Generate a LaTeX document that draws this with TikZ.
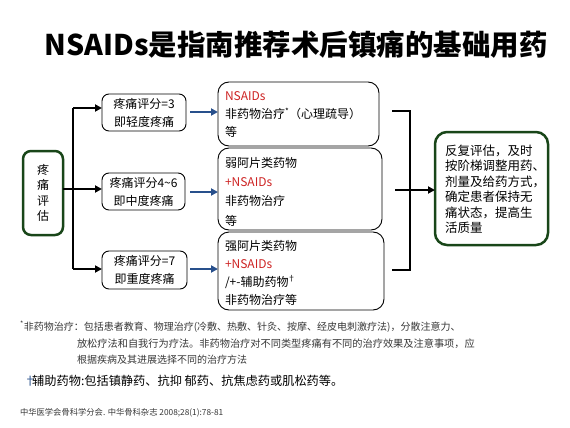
\documentclass[tikz,border=0pt]{standalone}
\usepackage{fontspec}
\setmainfont{Noto Sans CJK SC}
\usetikzlibrary{arrows.meta}
\definecolor{dgreen}{RGB}{25,70,25}
\definecolor{nred}{RGB}{205,35,35}
\definecolor{nblue}{RGB}{40,80,140}
\definecolor{fgray}{RGB}{55,55,55}
\begin{document}
\begin{tikzpicture}[x=1pt,y=-1pt,
 every node/.style={inner sep=0pt, outer sep=0pt},
 gbox/.style={draw=dgreen, line width=2.5pt, rounded corners=8pt},
 sbox/.style={draw=black, line width=0.9pt, rounded corners=7pt, align=center, font=\fontsize{12}{18}\selectfont},
 tbox/.style={draw=black, line width=0.9pt, rounded corners=11pt},
 blk/.style={line width=2pt, -{Triangle[length=7pt,width=7pt]}},
 blu/.style={draw=nblue, line width=2pt, -{Triangle[length=7pt,width=7pt]}},
 brk/.style={line width=2.2pt},
 lbl/.style={font=\fontsize{12}{14}\selectfont, anchor=west},
 foot/.style={font=\fontsize{10}{12}\selectfont, anchor=west, text=fgray},
]
\useasboundingbox (0,0) rectangle (570,428);

% title
\node (title) at (296,45) {\fontsize{28.5}{32}\selectfont\bfseries NSAIDs是指南推荐术后镇痛的基础用药};

% left evaluation box
\node[gbox, minimum width=40pt, minimum height=84pt, align=center, font=\fontsize{12}{15.5}\selectfont] (eval) at (43,193) {疼\\痛\\评\\估};

% score boxes
\node[sbox, minimum width=84pt, minimum height=37pt] (s1) at (144,112.5) {疼痛评分=3\\即轻度疼痛};
\node[sbox, minimum width=83pt, minimum height=37pt] (s2) at (143.5,191.5) {疼痛评分4\textasciitilde6\\即中度疼痛};
\node[sbox, minimum width=85pt, minimum height=38pt] (s3) at (144.5,270) {疼痛评分=7\\即重度疼痛};

% treatment boxes
\node[tbox, minimum width=161pt, minimum height=64pt] (t1) at (298.5,114) {};
\node[tbox, minimum width=164pt, minimum height=82pt] (t2) at (300,189) {};
\node[tbox, minimum width=166pt, minimum height=78pt] (t3) at (301,271) {};

\node[lbl, text=nred] (t1a) at (225,96) {NSAIDs};
\node[lbl] (t1b) at (225,114) {非药物治疗\textsuperscript{*}（心理疏导）};
\node[lbl] (t1c) at (225,132) {等};

\node[lbl] (t2a) at (225,163) {弱阿片类药物};
\node[lbl, text=nred] (t2b) at (225,182) {+NSAIDs};
\node[lbl] (t2c) at (225,201) {非药物治疗};
\node[lbl] (t2d) at (225,221) {等};

\node[lbl] (t3a) at (225,246) {强阿片类药物};
\node[lbl, text=nred] (t3b) at (225,264) {+NSAIDs};
\node[lbl] (t3c) at (225,282) {/+-辅助药物\kern-1pt\textsuperscript{†}};
\node[lbl] (t3d) at (225,300) {非药物治疗等};

% result box
\node[gbox, rounded corners=12pt, minimum width=113pt, minimum height=113pt] (res) at (491.5,188.5) {};
\node[anchor=west, align=left, font=\fontsize{12.5}{15.5}\selectfont] (rest) at (445,189) {反复评估，及时\\按阶梯调整用药、\\剂量及给药方式，\\确定患者保持无\\痛状态，提高生\\活质量};

% trunk connectors
\coordinate (jm) at (73,189);
\coordinate (jt) at (73,108);
\coordinate (jb) at (73,269);
\draw[line width=2pt] (eval.east |- jm) -- (jm);
\draw[line width=2pt] (jt) -- (jb);
\draw[blk] (jt) -- (s1.west |- jt);
\draw[blk] (jm) -- (s2.west |- jm);
\draw[blk] (jb) -- (s3.west |- jb);

% blue arrows
\coordinate (b1) at (190,112);
\coordinate (b2) at (190,192);
\coordinate (b3) at (190,269);
\draw[blu] (b1) -- (t1.west |- b1);
\draw[blu] (b2) -- (t2.west |- b2);
\draw[blu] (b3) -- (t3.west |- b3);

% bracket
\coordinate (k1) at (392,111);
\coordinate (k2) at (410,111);
\coordinate (k3) at (410,270);
\coordinate (k4) at (392,270);
\coordinate (km) at (395,190);
\draw[brk] (k1) -- (k2) -- (k3) -- (k4);
\draw[blk] (km) -- (res.west |- km);

% footnotes
\node[foot] (f1) at (20,327) {\textsuperscript{*}非药物治疗：包括患者教育、物理治疗(冷敷、热敷、针灸、按摩、经皮电刺激疗法)，分散注意力、};
\node[foot, font=\fontsize{10.2}{12}\selectfont] (f2) at (77,344) {放松疗法和自我行为疗法。非药物治疗对不同类型疼痛有不同的治疗效果及注意事项，应};
\node[foot] (f3) at (77,360) {根据疾病及其进展选择不同的治疗方法};
\node[anchor=west, font=\fontsize{12.2}{14}\selectfont] (f4) at (24,381) {{\color{nblue}†}\kern-4pt 辅助药物:包括镇静药、抗抑 郁药、抗焦虑药或肌松药等。};
\node[anchor=west, font=\fontsize{8.3}{10}\selectfont, text=fgray] (cite) at (20,413) {中华医学会骨科学分会. 中华骨科杂志 2008;28(1):78-81};
\end{tikzpicture}
\end{document}
